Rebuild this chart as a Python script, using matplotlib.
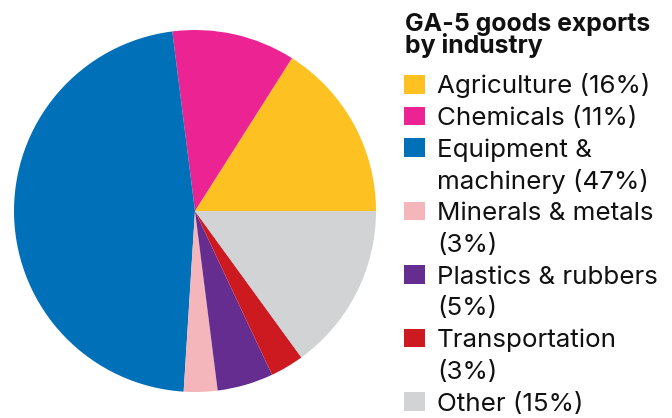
import matplotlib
matplotlib.use("Agg")
import matplotlib.pyplot as plt
from matplotlib.patches import Rectangle

categories = ["Agriculture", "Chemicals", "Equipment &\nmachinery", "Minerals & metals",
              "Plastics & rubbers", "Transportation", "Other"]
shares = [16, 11, 47, 3, 5, 3, 15]
colors = ["#FDC122", "#EC2393", "#0070B8", "#F4B5BB", "#662D91", "#CC1A20", "#D1D3D5"]
# how each legend label is split into lines
legend_lines = [
    ["Agriculture (16%)"],
    ["Chemicals (11%)"],
    ["Equipment &", "machinery (47%)"],
    ["Minerals & metals", "(3%)"],
    ["Plastics & rubbers", "(5%)"],
    ["Transportation", "(3%)"],
    ["Other (15%)"],
]
title_lines = ["GA-5 goods exports", "by industry"]

W, H = 672, 418
fig = plt.figure(figsize=(W / 100, H / 100), dpi=100)

# pie axes, centre at (195, 211) px from top, radius 181 px
cx, cy, r = 195, 211, 181
ax = fig.add_axes([(cx - r) / W, (H - cy - r) / H, 2 * r / W, 2 * r / H])
ax.pie(shares, colors=colors, startangle=0, counterclock=True,
       wedgeprops=dict(linewidth=0))
ax.set_xlim(-1, 1)
ax.set_ylim(-1, 1)
ax.set_aspect("equal")


def px(x, y):
    return x / W, (H - y) / H


# title, two lines
for k, s in enumerate(title_lines):
    fig.text(*px(405, 31 + k * 22.5), s, fontsize=17.9, fontweight="bold",
             family="Inter", va="baseline", ha="left", color="#111111")

# legend drawn by hand so multi-line labels keep the square on the first line
base = 93.5
step = 31.7
line = 0
for lines, col in zip(legend_lines, colors):
    y = base + line * step
    fig.patches.append(Rectangle(px(404, y), 21 / W, 18.5 / H, facecolor=col,
                                 edgecolor="none", transform=fig.transFigure,
                                 figure=fig))
    for k, s in enumerate(lines):
        fig.text(*px(437, y + k * step), s, fontsize=18.7, family="Inter",
                 va="baseline", ha="left", color="#111111")
    line += len(lines)

fig.savefig("out.png", dpi=100)
